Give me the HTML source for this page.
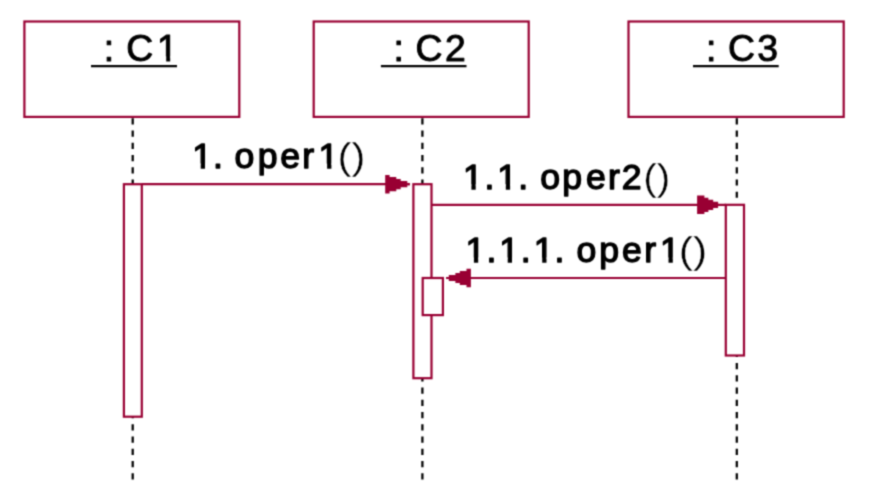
<!DOCTYPE html>
<html>
<head>
<meta charset="utf-8">
<title>Sequence diagram</title>
<style>
html,body{margin:0;padding:0;background:#fff;}
body{width:870px;height:496px;overflow:hidden;}
svg{display:block;}
text{font-family:"Liberation Sans",sans-serif;font-size:35.6px;font-weight:400;fill:#000;stroke:#000;stroke-width:1.4px;stroke-linejoin:round;}
.t{font-size:37.3px;stroke-width:1.0px;}
.p{font-weight:400;font-size:37.5px;stroke:#fff;stroke-width:0.35px;}
.b{fill:#fff;stroke:#990033;stroke-width:2.2;}
.l{fill:none;stroke:#990033;stroke-width:2.2;}
.d{fill:none;stroke:#000;stroke-width:2.25;stroke-dasharray:6.12 6.12;}
.a{fill:#990033;stroke:none;}
.u{fill:none;stroke:#000;stroke-width:2.2;}
.w{fill:#fff;stroke:none;}
</style>
</head>
<body>
<svg width="870" height="496" viewBox="0 0 870 496">
<defs><filter id="soft" filterUnits="userSpaceOnUse" x="0" y="0" width="870" height="496" color-interpolation-filters="sRGB"><feConvolveMatrix order="3" kernelMatrix="1 3 1 3 9 3 1 3 1" edgeMode="duplicate" preserveAlpha="true"/></filter></defs>
<g filter="url(#soft)">
<rect width="870" height="496" fill="#fff"/>
<line class="d" x1="132.7" y1="118.3" x2="132.7" y2="479.4"/>
<line class="d" x1="422.4" y1="118.3" x2="422.4" y2="479.4"/>
<line class="d" x1="736.8" y1="118.3" x2="736.8" y2="479.4"/>
<rect class="b" x="24.4" y="21.5" width="214.9" height="95.4"/>
<rect class="b" x="313.7" y="21.5" width="215" height="95.4"/>
<rect class="b" x="628.5" y="21.5" width="215.2" height="95.4"/>
<text class="t" y="60.80" x="91.00 103.82 114.18 126.14 157.02" xml:space="preserve"> : C1</text>
<line class="u" x1="91.0" y1="66.2" x2="177.0" y2="66.2"/>
<text class="t" y="60.80" x="380.90 393.62 403.98 415.44 445.08" xml:space="preserve"> : C2</text>
<line class="u" x1="380.9" y1="66.2" x2="466.5" y2="66.2"/>
<text class="t" y="60.80" x="693.00 705.92 716.28 727.99 757.19" xml:space="preserve"> : C3</text>
<line class="u" x1="693.0" y1="66.2" x2="778.7" y2="66.2"/>
<rect class="b" x="123.9" y="184.2" width="17.9" height="232.5"/>
<rect class="b" x="413.4" y="184.2" width="18.1" height="194"/>
<rect class="b" x="725.8" y="204.8" width="18.2" height="150.7"/>
<rect class="b" x="422.7" y="278" width="20.2" height="37.1"/>
<line class="l" x1="141.8" y1="184.2" x2="409.8" y2="184.2"/>
<polygon class="a" points="385.2,175.0 389.6,175.0 389.6,177.1 396.3,177.1 396.3,179.1 400.7,179.1 400.7,181.1 407.3,181.1 407.3,183.2 410.0,183.2 410.0,185.2 407.3,185.2 407.3,187.3 400.7,187.3 400.7,189.3 396.3,189.3 396.3,191.3 389.6,191.3 389.6,193.4 385.2,193.4"/>
<line class="l" x1="431.5" y1="204.8" x2="725.8" y2="204.8"/>
<polygon class="a" points="697.1,195.6 704.4,195.6 704.4,197.7 708.4,197.7 708.4,199.7 713.2,199.7 713.2,201.7 718.1,201.7 718.1,203.8 718.6,203.8 718.6,205.8 718.1,205.8 718.1,207.9 713.2,207.9 713.2,209.9 708.4,209.9 708.4,211.9 704.4,211.9 704.4,214.0 697.1,214.0"/>
<line class="l" x1="725.8" y1="278" x2="446.3" y2="278"/>
<polygon class="a" points="470.9,268.8 466.5,268.8 466.5,270.9 459.8,270.9 459.8,272.9 455.4,272.9 455.4,274.9 448.8,274.9 448.8,277.0 446.1,277.0 446.1,279.0 448.8,279.0 448.8,281.1 455.4,281.1 455.4,283.1 459.8,283.1 459.8,285.1 466.5,285.1 466.5,287.2 470.9,287.2"/>
<text y="168.10" x="192.20 212.90 222.80 234.60 257.70 280.29 302.29 318.60">1. oper1<tspan class="p" dy="1.1" x="337.51" textLength="27.77" lengthAdjust="spacingAndGlyphs">()</tspan></text>
<text y="188.80" x="462.90 484.55 497.30 518.35 528.25 540.30 562.25 585.89 608.04 621.85">1.1. oper2<tspan class="p" dy="1.1" x="643.28" textLength="27.03" lengthAdjust="spacingAndGlyphs">()</tspan></text>
<text y="262.10" x="465.40 486.50 499.20 520.65 533.70 554.45 564.35 576.55 599.20 621.99 644.34 660.00">1.1.1. oper1<tspan class="p" dy="1.1" x="678.76" textLength="28.39" lengthAdjust="spacingAndGlyphs">()</tspan></text>
<rect class="w" x="158.37" y="56.31" width="7.81" height="5.99"/>
<rect class="w" x="170.20" y="56.31" width="7.25" height="5.99"/>
<rect class="w" x="193.21" y="163.54" width="7.50" height="6.26"/>
<rect class="w" x="205.00" y="163.54" width="6.96" height="6.26"/>
<rect class="w" x="319.61" y="163.54" width="7.50" height="6.26"/>
<rect class="w" x="331.40" y="163.54" width="6.96" height="6.26"/>
<rect class="w" x="463.91" y="184.24" width="7.50" height="6.26"/>
<rect class="w" x="475.70" y="184.24" width="6.96" height="6.26"/>
<rect class="w" x="498.31" y="184.24" width="7.50" height="6.26"/>
<rect class="w" x="510.10" y="184.24" width="6.96" height="6.26"/>
<rect class="w" x="466.41" y="257.54" width="7.50" height="6.26"/>
<rect class="w" x="478.20" y="257.54" width="6.96" height="6.26"/>
<rect class="w" x="500.21" y="257.54" width="7.50" height="6.26"/>
<rect class="w" x="512.00" y="257.54" width="6.96" height="6.26"/>
<rect class="w" x="534.71" y="257.54" width="7.50" height="6.26"/>
<rect class="w" x="546.50" y="257.54" width="6.96" height="6.26"/>
<rect class="w" x="661.01" y="257.54" width="7.50" height="6.26"/>
<rect class="w" x="672.80" y="257.54" width="6.96" height="6.26"/>
</g>
</svg>
</body>
</html>
